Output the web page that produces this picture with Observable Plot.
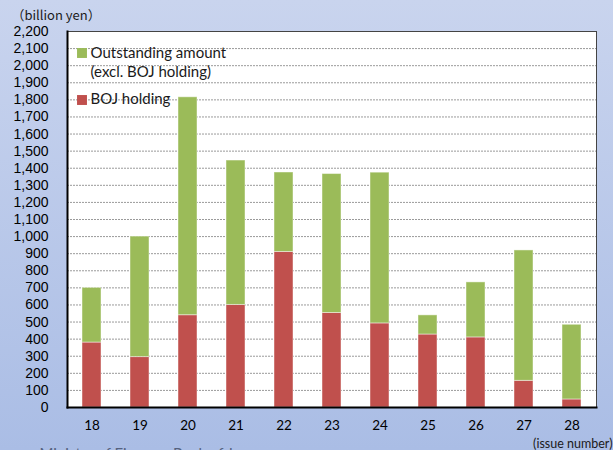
<!DOCTYPE html>
<html><head><meta charset="utf-8">
<script src="https://cdn.jsdelivr.net/npm/d3@7"></script>
<script src="https://cdn.jsdelivr.net/npm/@observablehq/plot@0.6"></script>
<style>
html,body{margin:0;padding:0;}
body{width:613px;height:450px;overflow:hidden;}
svg{display:block;}
</style>
</head><body><div id="chart"></div>
<script>
const issues = ["18","19","20","21","22","23","24","25","26","27","28"];
const bojHolding = [380, 295, 540, 600, 910, 553, 492, 427, 410, 156, 47];
const outstandingExclBoj = [320, 705, 1275, 845, 465, 813, 882, 112, 322, 763, 437];
const seriesNames = ["BOJ holding", "Outstanding amount (excl. BOJ holding)"];
const seriesColors = ["#c0504d", "#9bbb59"];
const yTicks = [0,100,200,300,400,500,600,700,800,900,1000,1100,1200,1300,1400,1500,1600,1700,1800,1900,2000,2100,2200];

const rows = [
  ...issues.map((issue, i) => ({issue, series: seriesNames[0], value: bojHolding[i]})),
  ...issues.map((issue, i) => ({issue, series: seriesNames[1], value: outstandingExclBoj[i]}))
];

const legendFont = "Lato, 'Open Sans', sans-serif";

const chart = Plot.plot({
  width: 613,
  height: 450,
  marginLeft: 67,
  marginRight: 17,
  marginTop: 31,
  marginBottom: 43,
  style: {
    background: "linear-gradient(180deg, #c9d4ee 0%, #aabde5 100%)",
    overflow: "visible"
  },
  x: {type: "band", domain: issues, paddingInner: 0.6, paddingOuter: 0.3},
  y: {domain: [0, 2200]},
  color: {domain: seriesNames, range: seriesColors},
  marks: [
    Plot.frame({fill: "white"}),
    Plot.gridY(yTicks, {stroke: "#9a9a9a", strokeOpacity: 1, strokeDasharray: "2,1", strokeWidth: 1}),
    Plot.barY(rows, {x: "issue", y: "value", fill: "series", stroke: "white", strokeOpacity: 0.45, strokeWidth: 1}),
    Plot.frame({stroke: "#444", strokeWidth: 1}),
    Plot.frame({anchor: "left", stroke: "black", strokeWidth: 2}),
    Plot.frame({anchor: "bottom", stroke: "black", strokeWidth: 2}),
    Plot.axisY({ticks: yTicks, tickFormat: d3.format(","), tickSize: 0, tickPadding: 19, fontSize: 14, fontFamily: "'Liberation Sans', Arial, sans-serif", fill: "black", label: null}),
    Plot.axisX({tickSize: 0, tickPadding: 13, fontSize: 13.5, fontFamily: legendFont, fill: "black", label: null}),
    // legend
    Plot.dot([seriesNames[1]], {frameAnchor: "top-left", dx: 14.5, dy: 21.5, symbol: "square", r: 5.6, fill: seriesColors[1]}),
    Plot.dot([seriesNames[0]], {frameAnchor: "top-left", dx: 14.5, dy: 68.5, symbol: "square", r: 5.6, fill: seriesColors[0]}),
    Plot.text(["Outstanding amount"], {frameAnchor: "top-left", lineAnchor: "middle", dx: 23, dy: 22, textAnchor: "start", fontSize: 15, fontFamily: legendFont, fill: "#1a1a1a"}),
    Plot.text(["(excl. BOJ holding)"], {frameAnchor: "top-left", lineAnchor: "middle", dx: 23, dy: 41, textAnchor: "start", fontSize: 15, fontFamily: legendFont, fill: "#1a1a1a"}),
    Plot.text(["BOJ holding"], {frameAnchor: "top-left", lineAnchor: "middle", dx: 23, dy: 68, textAnchor: "start", fontSize: 15, fontFamily: legendFont, fill: "#1a1a1a"}),
    // axis titles
    Plot.text(["（billion yen）"], {frameAnchor: "top-left", lineAnchor: "middle", dx: -56, dy: -16, textAnchor: "start", fontSize: 13, fontFamily: "'Noto Sans CJK JP', sans-serif", fill: "#1a1a1a"}),
    Plot.text(["(issue number)"], {frameAnchor: "bottom-right", lineAnchor: "middle", dx: 16, dy: 36, textAnchor: "end", fontSize: 12.5, fontFamily: legendFont, fill: "#1a1a1a"}),
    Plot.text(["Ministry of Finance, Bank of Japan"], {frameAnchor: "bottom-left", lineAnchor: "middle", dx: -28, dy: 47, textAnchor: "start", fontSize: 15, fontFamily: legendFont, fill: "#55627e"})
  ]
});
document.getElementById("chart").appendChild(chart);
</script>
</body></html>
